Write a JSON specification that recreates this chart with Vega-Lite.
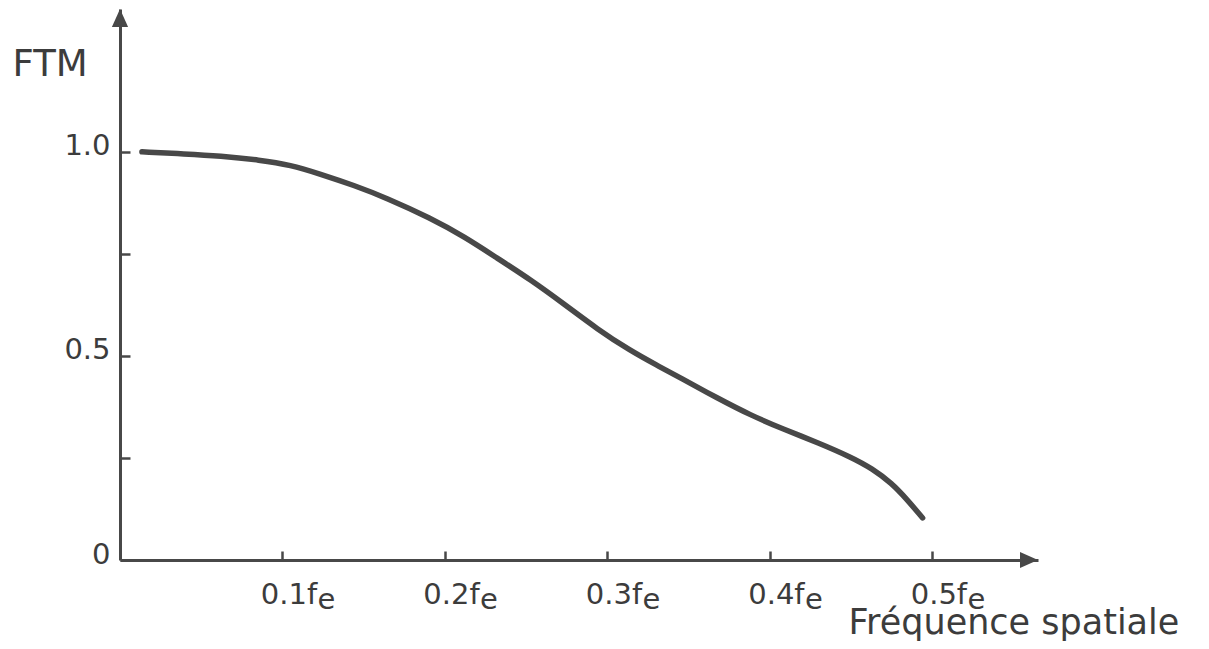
{
  "$schema": "https://vega.github.io/schema/vega-lite/v6.json",
  "width": 918,
  "height": 551,
  "autosize": {"type": "none"},
  "padding": {"left": 120, "top": 9, "right": 171, "bottom": 89},
  "background": "white",
  "config": {
    "view": {"stroke": null},
    "font": "DejaVu Sans",
    "axis": {"grid": false, "labelOverlap": false, "labelFlush": false}
  },
  "layer": [
    {
      "data": {
        "values": [
          {"f": 0.0135, "ftm": 1.0},
          {"f": 0.04, "ftm": 0.995},
          {"f": 0.0616, "ftm": 0.99},
          {"f": 0.0862, "ftm": 0.98},
          {"f": 0.105, "ftm": 0.968},
          {"f": 0.123, "ftm": 0.946},
          {"f": 0.144, "ftm": 0.918},
          {"f": 0.164, "ftm": 0.887},
          {"f": 0.191, "ftm": 0.838},
          {"f": 0.212, "ftm": 0.792},
          {"f": 0.232, "ftm": 0.74},
          {"f": 0.253, "ftm": 0.686},
          {"f": 0.273, "ftm": 0.628},
          {"f": 0.294, "ftm": 0.565},
          {"f": 0.314, "ftm": 0.513},
          {"f": 0.33, "ftm": 0.478},
          {"f": 0.345, "ftm": 0.446},
          {"f": 0.368, "ftm": 0.396},
          {"f": 0.388, "ftm": 0.355},
          {"f": 0.408, "ftm": 0.321},
          {"f": 0.43, "ftm": 0.287},
          {"f": 0.45, "ftm": 0.252},
          {"f": 0.463, "ftm": 0.224},
          {"f": 0.475, "ftm": 0.188},
          {"f": 0.484, "ftm": 0.15},
          {"f": 0.494, "ftm": 0.103}
        ]
      },
      "mark": {"type": "line", "color": "#484848", "strokeWidth": 5.5, "interpolate": "basis", "strokeCap": "round"},
      "encoding": {
        "x": {
          "field": "f",
          "type": "quantitative",
          "scale": {"domain": [0, 0.565], "nice": false, "zero": false},
          "axis": {
            "values": [0.1, 0.2, 0.3, 0.4, 0.5],
            "labelExpr": "format(datum.value, '.1f') + 'f'",
            "labelFontSize": 29,
            "labelColor": "#3c3c3c",
            "labelAlign": "center",
            "labelBaseline": "alphabetic",
            "labelOffset": 6,
            "labelPadding": 52,
            "domainColor": "#484848",
            "domainWidth": 3,
            "tickColor": "#484848",
            "tickWidth": 2.5,
            "tickSize": -9,
            "title": "Fréquence spatiale",
            "titleFontSize": 35,
            "titleFontWeight": "normal",
            "titleColor": "#3c3c3c",
            "titleAlign": "left",
            "titleBaseline": "alphabetic",
            "titleX": 728,
            "titleY": 73
          }
        },
        "y": {
          "field": "ftm",
          "type": "quantitative",
          "scale": {"domain": [0, 1.35], "nice": false, "zero": false},
          "axis": {
            "values": [0, 0.25, 0.5, 0.75, 1],
            "labelExpr": "datum.value == 0 ? '0' : datum.value == 0.5 ? '0.5' : datum.value == 1 ? '1.0' : ''",
            "labelFontSize": 29,
            "labelColor": "#3c3c3c",
            "labelBaseline": "alphabetic",
            "labelOffset": 3,
            "labelPadding": 20,
            "domainColor": "#484848",
            "domainWidth": 3,
            "tickColor": "#484848",
            "tickWidth": 2.5,
            "tickSize": -10,
            "title": "FTM",
            "titleAngle": 0,
            "titleFontSize": 37,
            "titleFontWeight": "normal",
            "titleColor": "#3c3c3c",
            "titleAlign": "left",
            "titleBaseline": "alphabetic",
            "titleX": -108,
            "titleY": 66
          }
        }
      }
    },
    {
      "data": {
        "values": [
          {"f": 0, "ftm": 1.35, "dir": "up"},
          {"f": 0.565, "ftm": 0, "dir": "right"}
        ]
      },
      "mark": {"type": "point", "filled": true, "opacity": 1, "color": "#484848", "size": 1296, "strokeWidth": 0},
      "encoding": {
        "x": {"field": "f", "type": "quantitative"},
        "y": {"field": "ftm", "type": "quantitative"},
        "shape": {
          "field": "dir",
          "type": "nominal",
          "scale": {"domain": ["up", "right"], "range": ["M0,0L-0.45,1L0.45,1Z", "M0,0L-1,-0.45L-1,0.45Z"]},
          "legend": null
        }
      }
    },
    {
      "data": {
        "values": [
          {"f": 0.1, "ftm": 0, "sub": "e"},
          {"f": 0.2, "ftm": 0, "sub": "e"},
          {"f": 0.3, "ftm": 0, "sub": "e"},
          {"f": 0.4, "ftm": 0, "sub": "e"},
          {"f": 0.5, "ftm": 0, "sub": "e"}
        ]
      },
      "mark": {"type": "text", "align": "left", "baseline": "alphabetic", "dx": 35, "dy": 49, "fontSize": 29, "color": "#3c3c3c"},
      "encoding": {
        "x": {"field": "f", "type": "quantitative"},
        "y": {"field": "ftm", "type": "quantitative"},
        "text": {"field": "sub"}
      }
    }
  ]
}
